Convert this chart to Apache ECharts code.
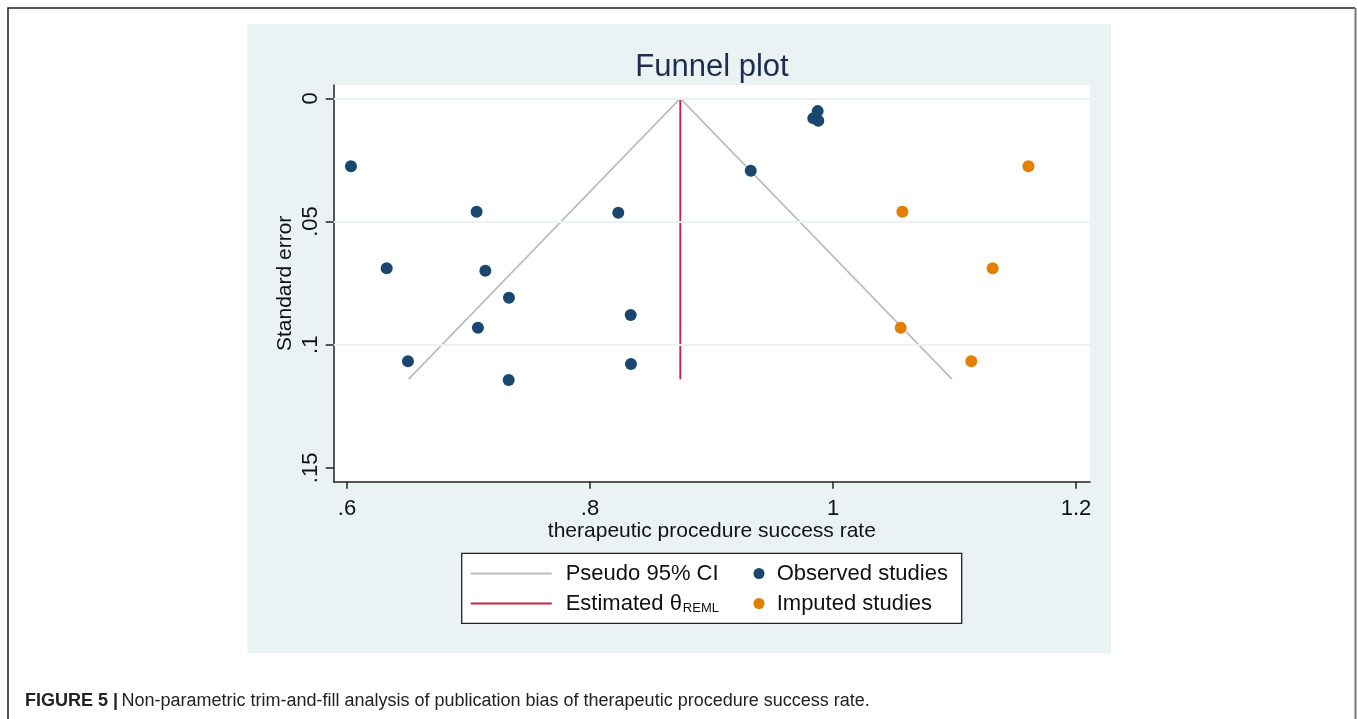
<!DOCTYPE html>
<html><head><meta charset="utf-8">
<script src="https://cdn.jsdelivr.net/npm/echarts@6/dist/echarts.min.js"></script>
<style>html,body{margin:0;padding:0;background:#fff}#c{width:1357px;height:719px}</style>
</head><body><div id="c"></div>
<script>
// ---- data ----
const observedX  = [0.6033, 0.7067, 0.8233, 0.6327, 0.7139, 0.7333, 0.7078, 0.6502, 0.7331, 0.8335, 0.8337, 0.9323, 0.9874, 0.9838, 0.9879];
const observedSE = [0.0276, 0.0460, 0.0464, 0.0690, 0.0700, 0.0809, 0.0931, 0.1067, 0.1143, 0.0879, 0.1078, 0.0294, 0.0052, 0.0081, 0.0091];
const imputedX   = [1.1608, 1.0571, 1.1314, 1.0557, 1.1138];
const imputedSE  = [0.0276, 0.0460, 0.0690, 0.0931, 0.1067];
const ciX   = [0.6508, 0.8743, 1.0979];
const ciSE  = [0.114, 0, 0.114];
const thetaX  = [0.8743, 0.8743];
const thetaSE = [0, 0.114];
const xTicks = [0.6, 0.8, 1.0, 1.2];
const xTickLabels = ['.6', '.8', '1', '1.2'];
const yTicks = [0, 0.05, 0.1, 0.15];
const yTickLabels = ['0', '.05', '.1', '.15'];
const gridSE = [0, 0.05, 0.1];

const zip = (a, b) => a.map((v, i) => [v, b[i]]);
const lab = (ticks, labels) => v => {
  const i = ticks.findIndex(t => Math.abs(t - v) < 1e-9);
  return i >= 0 ? labels[i] : '';
};

const FONT = 'Liberation Sans, Arial, sans-serif';
const PANEL = '#EAF2F3';
const NAVY = '#1a476f';
const ORANGE = '#e37e00';
const RED = '#cf1f45';
const GRAY = '#bdbdbd';

const chart = echarts.init(document.getElementById('c'), null, {renderer: 'canvas'});
chart.setOption({
  animation: false,
  backgroundColor: '#fff',
  textStyle: {fontFamily: FONT},
  grid: {left: 333.7, top: 85, right: 267, bottom: 237.3, show: true, backgroundColor: '#fff', borderWidth: 0, containLabel: false},
  xAxis: {
    type: 'value', min: 0.5891, max: 1.2115,
    name: 'therapeutic procedure success rate', nameLocation: 'middle', nameGap: 39, nameMoveOverlap: false,
    nameTextStyle: {fontFamily: FONT, fontSize: 21, color: '#111'},
    axisLine: {show: true, onZero: false, lineStyle: {color: '#222', width: 1.5}},
    axisTick: {show: true, inside: false, length: 7, customValues: xTicks, lineStyle: {color: '#222', width: 1.5}},
    axisLabel: {customValues: xTicks, formatter: lab(xTicks, xTickLabels), fontFamily: FONT, fontSize: 22, color: '#111', margin: 16},
    splitLine: {show: false}
  },
  yAxis: {
    type: 'value', inverse: true, min: -0.0054, max: 0.1556,
    name: 'Standard error', nameLocation: 'middle', nameGap: 38, nameRotate: 90, nameMoveOverlap: false,
    nameTextStyle: {fontFamily: FONT, fontSize: 21, color: '#111'},
    axisLine: {show: true, onZero: false, lineStyle: {color: '#222', width: 1.5}},
    axisTick: {show: true, inside: false, length: 8, customValues: yTicks, lineStyle: {color: '#222', width: 1.5}},
    axisLabel: {customValues: yTicks, formatter: lab(yTicks, yTickLabels), rotate: 90, fontFamily: FONT, fontSize: 22, color: '#111', margin: 12},
    splitLine: {show: false}
  },
  series: [
    {
      type: 'line', data: [], silent: true, z: 1,
      markLine: {
        silent: true, symbol: 'none', label: {show: false},
        lineStyle: {color: PANEL, width: 2, type: 'solid'},
        data: gridSE.map(v => ({yAxis: v}))
      }
    },
    {type: 'line', data: zip(ciX, ciSE), symbol: 'none', lineStyle: {color: GRAY, width: 1.8}, z: 2, silent: true},
    {type: 'line', data: zip(thetaX, thetaSE), symbol: 'none', lineStyle: {color: RED, width: 1.8}, z: 3, silent: true},
    {type: 'scatter', data: zip(observedX, observedSE), symbolSize: 12, itemStyle: {color: NAVY, opacity: 1}, z: 4},
    {type: 'scatter', data: zip(imputedX, imputedSE), symbolSize: 12, itemStyle: {color: ORANGE, opacity: 1}, z: 4}
  ],
  graphic: [
    // outer figure frame
    {type: 'polyline', z: -10, shape: {points: [[8, 719], [8, 8], [1355, 8]]}, style: {stroke: '#222', lineWidth: 1.5, fill: null}},
    {type: 'line', z: -10, shape: {x1: 1355.5, y1: 8, x2: 1355.5, y2: 719}, style: {stroke: '#777', lineWidth: 2}},
    // stata panel
    {type: 'rect', z: -5, shape: {x: 247.3, y: 24.3, width: 863.7, height: 629}, style: {fill: PANEL}},
    // title
    {type: 'text', z: 11, x: 712, y: 67, style: {text: 'Funnel plot', font: '31px ' + FONT, fill: '#1e2d4f', align: 'center', verticalAlign: 'middle'}},
    // legend
    {type: 'rect', z: 10, shape: {x: 461.7, y: 553.3, width: 500, height: 70}, style: {fill: '#fff', stroke: '#222', lineWidth: 1.3}},
    {type: 'line', z: 11, shape: {x1: 470.7, y1: 573.5, x2: 551.7, y2: 573.5}, style: {stroke: GRAY, lineWidth: 1.8}},
    {type: 'line', z: 11, shape: {x1: 470.7, y1: 603.5, x2: 551.7, y2: 603.5}, style: {stroke: RED, lineWidth: 1.8}},
    {type: 'text', z: 11, x: 565.7, y: 574, style: {text: 'Pseudo 95% CI', font: '22px ' + FONT, fill: '#111', verticalAlign: 'middle'}},
    {type: 'text', z: 11, x: 565.7, y: 604, style: {
      text: '{a|Estimated θ}{s|REML}', verticalAlign: 'middle', fill: '#111',
      rich: {a: {fontFamily: FONT, fontSize: 22, lineHeight: 28, fill: '#111', verticalAlign: 'middle'},
             s: {fontFamily: FONT, fontSize: 13, lineHeight: 28, fill: '#111', verticalAlign: 'bottom', padding: [0, 0, 3, 1]}}
    }},
    {type: 'circle', z: 11, shape: {cx: 759, cy: 573.5, r: 5.5}, style: {fill: NAVY}},
    {type: 'circle', z: 11, shape: {cx: 759, cy: 603.5, r: 5.5}, style: {fill: ORANGE}},
    {type: 'text', z: 11, x: 776.7, y: 574, style: {text: 'Observed studies', font: '22px ' + FONT, fill: '#111', verticalAlign: 'middle'}},
    {type: 'text', z: 11, x: 776.7, y: 604, style: {text: 'Imputed studies', font: '22px ' + FONT, fill: '#111', verticalAlign: 'middle'}},
    // caption
    {type: 'text', z: 11, x: 25, y: 701, style: {
      text: '{b|FIGURE 5 |} {r|Non-parametric trim-and-fill analysis of publication bias of therapeutic procedure success rate.}',
      verticalAlign: 'middle',
      rich: {b: {fontFamily: 'Liberation Sans Narrow, Arial Narrow, sans-serif', fontSize: 18, fontWeight: 'bold', fill: '#222'},
             r: {fontFamily: 'Liberation Sans Narrow, Arial Narrow, sans-serif', fontSize: 18, fill: '#222'}}
    }}
  ]
});
</script>
</body></html>
